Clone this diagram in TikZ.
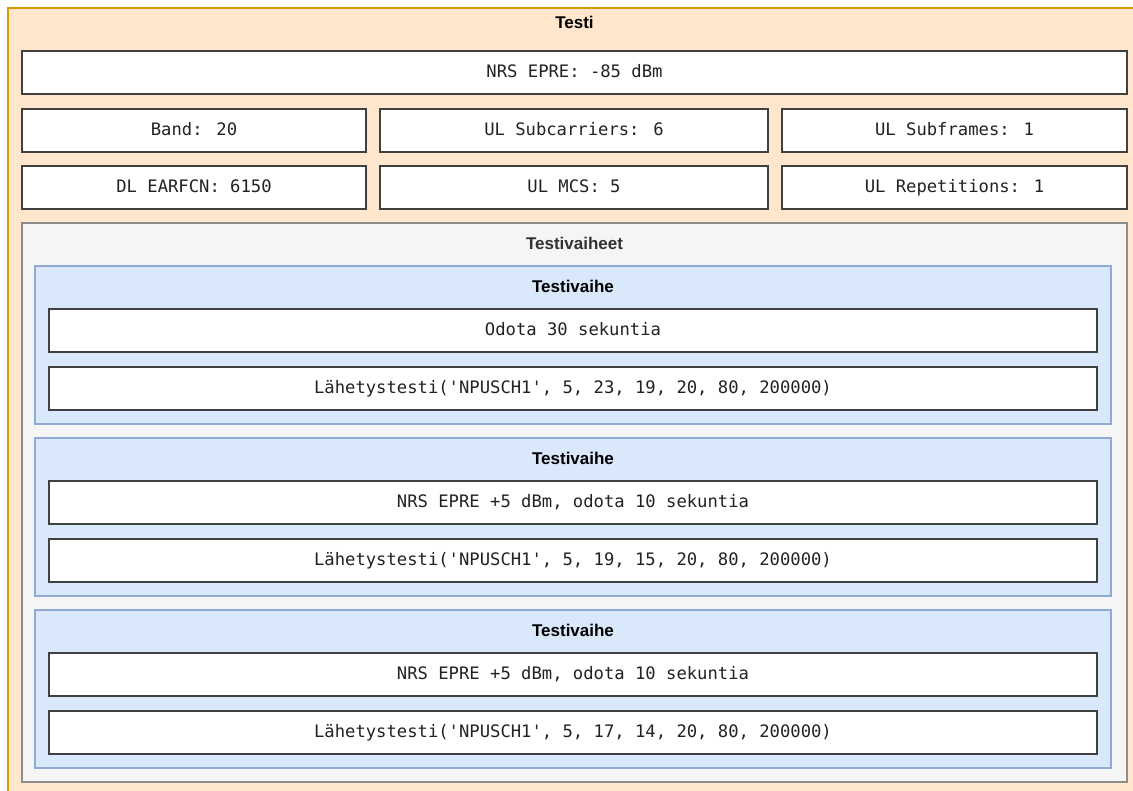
\documentclass[tikz,border=0pt]{standalone}
\usepackage{fontspec}
\setsansfont{Liberation Sans}
\newfontfamily\cellfont{DejaVu Sans Mono}
\usetikzlibrary{positioning}

\definecolor{testfill}{HTML}{FFE6CC}
\definecolor{testline}{HTML}{D79B00}
\definecolor{groupfill}{HTML}{F5F5F5}
\definecolor{groupline}{HTML}{8C8C8C}
\definecolor{phasefill}{HTML}{DAE8FC}
\definecolor{phaseline}{HTML}{8FAAD6}
\definecolor{celltext}{HTML}{222222}

\begin{document}
\begin{tikzpicture}[
  x=1pt, y=-1pt,
  every node/.style={outer sep=0pt, inner sep=0pt},
  frame/.style={line width=1.3pt, anchor=north west},
  testbox/.style={frame, fill=testfill, draw=testline},
  groupbox/.style={frame, fill=groupfill, draw=groupline},
  phasebox/.style={frame, fill=phasefill, draw=phaseline,
    minimum width=1076pt, minimum height=158pt},
  cell/.style={frame, fill=white, draw=black!75, minimum height=43pt,
    font=\cellfont\fontsize{17.2}{20}\selectfont, text=celltext,
    text height=1.08em, text depth=0.1em},
  stepbox/.style={cell, minimum width=1048pt},
  heading/.style={font=\sffamily\bfseries\fontsize{17}{20}\selectfont,
    text height=0.92em, text depth=0.1em}
]
\fill[white] (0,0) rectangle (1133,791);
\useasboundingbox (0,0) rectangle (1133,791);

% ---------- Outer test container ----------
\node[testbox, minimum width=1140pt, minimum height=800pt] (testi) at (8,8) {};
\node[heading] (testi-title) at (574.5,24) {Testi};

% ---------- Parameter rows ----------
\node[cell, minimum width=1105pt] (nrs) at (22,51) {NRS EPRE: -85 dBm};

\node[cell, minimum width=344pt, below=15pt of nrs.south west, anchor=north west] (band) {Band: 20};
\node[cell, minimum width=388pt, right=14pt of band.north east, anchor=north west] (ulsc) {UL Subcarriers: 6};
\node[cell, minimum width=345pt, right=14pt of ulsc.north east, anchor=north west] (ulsf) {UL Subframes: 1};

\node[cell, minimum width=344pt, below=14pt of band.south west, anchor=north west] (earfcn) {DL EARFCN: 6150};
\node[cell, minimum width=388pt, below=14pt of ulsc.south west, anchor=north west] (mcs) {UL MCS: 5};
\node[cell, minimum width=345pt, below=14pt of ulsf.south west, anchor=north west] (rep) {UL Repetitions: 1};

% ---------- Test phases ----------
\node[groupbox, minimum width=1105pt, minimum height=559pt,
      below=14pt of earfcn.south west, anchor=north west] (phases) {};
\node[heading, text=black!80, yshift=-22pt] (phases-title) at (phases.north) {Testivaiheet};

% phase 1
\node[phasebox, below right=43pt and 13pt of phases.north west, anchor=north west] (phase1) {};
\node[heading, yshift=-22pt] (phase1-title) at (phase1.north) {Testivaihe};
\node[stepbox, below right=43pt and 14pt of phase1.north west, anchor=north west] (wait1) {Odota 30 sekuntia};
\node[stepbox, below=15pt of wait1.south west, anchor=north west] (test1) {Lähetystesti('NPUSCH1', 5, 23, 19, 20, 80, 200000)};

% phase 2
\node[phasebox, below=14pt of phase1.south west, anchor=north west] (phase2) {};
\node[heading, yshift=-22pt] (phase2-title) at (phase2.north) {Testivaihe};
\node[stepbox, below right=43pt and 14pt of phase2.north west, anchor=north west] (wait2) {NRS EPRE +5 dBm, odota 10 sekuntia};
\node[stepbox, below=15pt of wait2.south west, anchor=north west] (test2) {Lähetystesti('NPUSCH1', 5, 19, 15, 20, 80, 200000)};

% phase 3
\node[phasebox, below=14pt of phase2.south west, anchor=north west] (phase3) {};
\node[heading, yshift=-22pt] (phase3-title) at (phase3.north) {Testivaihe};
\node[stepbox, below right=43pt and 14pt of phase3.north west, anchor=north west] (wait3) {NRS EPRE +5 dBm, odota 10 sekuntia};
\node[stepbox, below=15pt of wait3.south west, anchor=north west] (test3) {Lähetystesti('NPUSCH1', 5, 17, 14, 20, 80, 200000)};

\end{tikzpicture}
\end{document}
